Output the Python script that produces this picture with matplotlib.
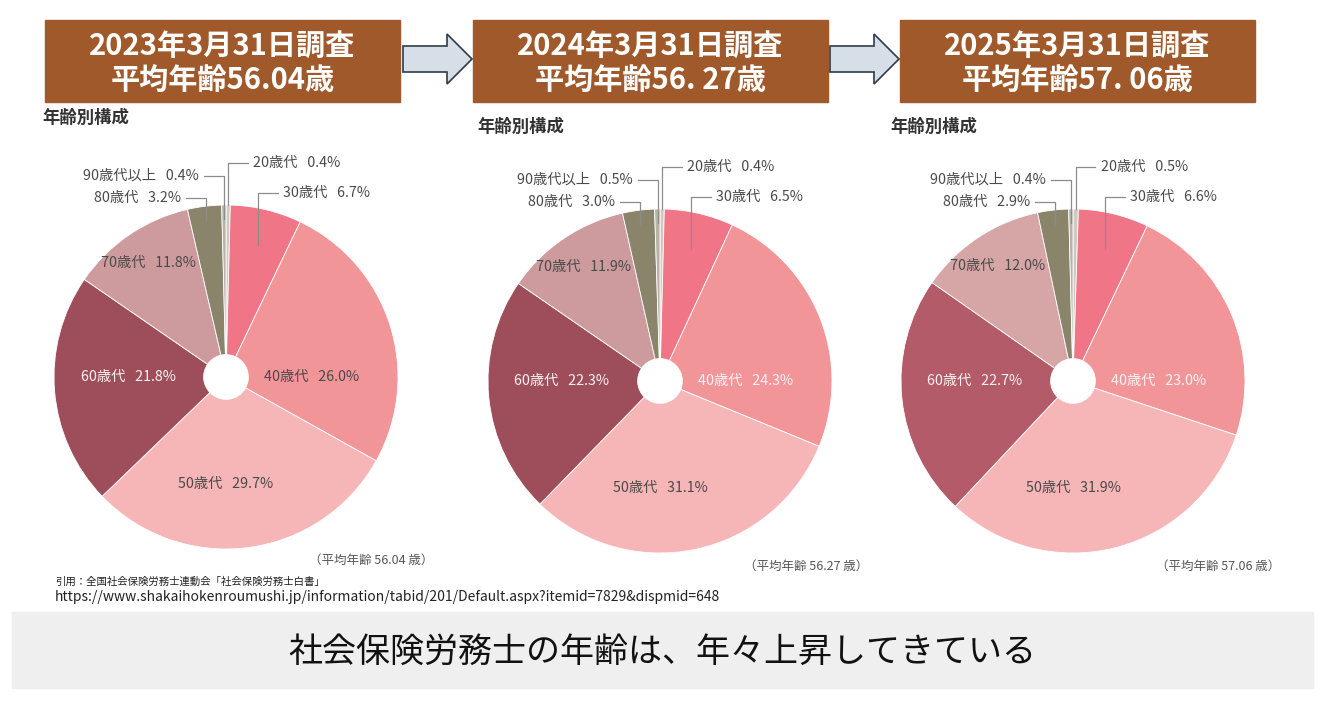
import numpy as np
import matplotlib
matplotlib.use('Agg')
import matplotlib.pyplot as plt
from matplotlib.patches import Rectangle, FancyArrow

plt.rcParams['font.family'] = ['Noto Sans CJK JP', 'DejaVu Sans']

# data
age_groups = ['20歳代', '30歳代', '40歳代', '50歳代', '60歳代', '70歳代', '80歳代', '90歳代以上']
share_2023 = [0.4, 6.7, 26.0, 29.7, 21.8, 11.8, 3.2, 0.4]
share_2024 = [0.4, 6.5, 24.3, 31.1, 22.3, 11.9, 3.0, 0.5]
share_2025 = [0.5, 6.6, 23.0, 31.9, 22.7, 12.0, 2.9, 0.4]
survey_titles = ['2023年3月31日調査', '2024年3月31日調査', '2025年3月31日調査']
head_ages = ['56.04', '56. 27', '57. 06']
note_ages = ['56.04', '56.27', '57.06']
shares = [share_2023, share_2024, share_2025]

W, H = 1331, 703
fig = plt.figure(figsize=(W / 100, H / 100), dpi=100)
bg = fig.add_axes([0, 0, 1, 1])
bg.set_xlim(0, W)
bg.set_ylim(H, 0)
bg.axis('off')

BROWN = '#A0592A'
TXT = '#4a4a4a'
base_cols = ['#CFCAC0', '#F07587', '#F29599', '#F6B6B7', '#9E4E5B', '#CD9B9D', '#8A846A', '#B8B3A6']
col_60 = ['#9E4E5B', '#9E4E5B', '#B35B68']
col_70 = ['#CD9B9D', '#CD9B9D', '#D6A5A6']
white_40 = [False, True, True]

# layout (pixels)
box_x = [45, 473, 900]
box_w, box_y, box_h = 355, 20, 82
centers = [(226, 377), (660, 381), (1073, 381)]
R = 172
title_pos = [(42, 118), (477, 127), (890, 127)]
note_pos = [(433, 560), (868, 566), (1280, 566)]

# inside labels: (angle or None for wedge middle, radius)
inside = {'40歳代': (0, 0.50), '50歳代': (-90, 0.62), '60歳代': (180, 0.57), '70歳代': (None, 0.80)}
# leader labels: (start radius, level, side)
outside = {'20歳代': (1.0, 1.245, 1), '30歳代': (0.79, 1.07, 1),
           '80歳代': (0.92, 1.04, -1), '90歳代以上': (0.92, 1.17, -1)}

for i in range(3):
    bg.add_patch(Rectangle((box_x[i], box_y), box_w, box_h, color=BROWN))
    bg.text(box_x[i] + box_w / 2, box_y + box_h / 2 + 2,
            survey_titles[i] + '\n平均年齢' + head_ages[i] + '歳',
            color='white', fontsize=21, fontweight='bold', ha='center', va='center',
            linespacing=1.15)
    bg.text(title_pos[i][0], title_pos[i][1], '年齢別構成', fontsize=12.5, fontweight='bold',
            color='#333333', va='center')
    bg.text(note_pos[i][0], note_pos[i][1], '（平均年齢 ' + note_ages[i] + ' 歳）',
            fontsize=9, color='#555555', ha='right', va='center')

for x0 in [403, 830]:
    bg.add_patch(FancyArrow(x0, 59, 69, 0, width=26, head_width=50, head_length=25,
                            length_includes_head=True, facecolor='#D6DEE8',
                            edgecolor='#2F3B4C', linewidth=1.2))

bg.text(55, 582, '引用：全国社会保険労務士連動会「社会保険労務士白書」', fontsize=7.5,
        color='#222222', va='center')
bg.text(55, 597, 'https://www.shakaihokenroumushi.jp/information/tabid/201/Default.aspx?itemid=7829&dispmid=648',
        fontsize=10, color='#222222', va='center')

bg.add_patch(Rectangle((12, 612), 1301, 76, color='#EFEFEF'))
bg.text(662, 652, '社会保険労務士の年齢は、年々上昇してきている', fontsize=24.5,
        color='#111111', ha='center', va='center')

for i in range(3):
    cx, cy = centers[i]
    ax = fig.add_axes([(cx - R) / W, 1 - (cy + R) / H, 2 * R / W, 2 * R / H])
    cols = list(base_cols)
    cols[4] = col_60[i]
    cols[5] = col_70[i]
    wedges, _ = ax.pie(shares[i], colors=cols, startangle=90, counterclock=False, radius=1,
                       wedgeprops=dict(width=0.87, edgecolor='white', linewidth=0.6))
    ax.set_xlim(-1, 1)
    ax.set_ylim(-1, 1)
    ax.set_aspect('equal')
    ax.axis('off')
    for w, name, v in zip(wedges, age_groups, shares[i]):
        mid = np.radians((w.theta1 + w.theta2) / 2)
        label = f'{name}   {v:.1f}%'
        if name in inside:
            ang, r = inside[name]
            a = mid if ang is None else np.radians(ang)
            c = TXT
            if name == '60歳代' or (name == '40歳代' and white_40[i]):
                c = '#FBF3F3'
            ax.text(r * np.cos(a), r * np.sin(a), label, fontsize=10.3, color=c,
                    ha='center', va='center')
        else:
            r0, lvl, side = outside[name]
            x0, y0 = r0 * np.cos(mid), r0 * np.sin(mid)
            ax.plot([x0, x0, x0 + side * 0.115], [y0, lvl, lvl], color='#8c8c8c',
                    lw=0.9, clip_on=False)
            ax.text(x0 + side * 0.145, lvl, label, fontsize=10.3, color=TXT,
                    ha='left' if side > 0 else 'right', va='center', clip_on=False)

fig.savefig('out.png', dpi=100)
